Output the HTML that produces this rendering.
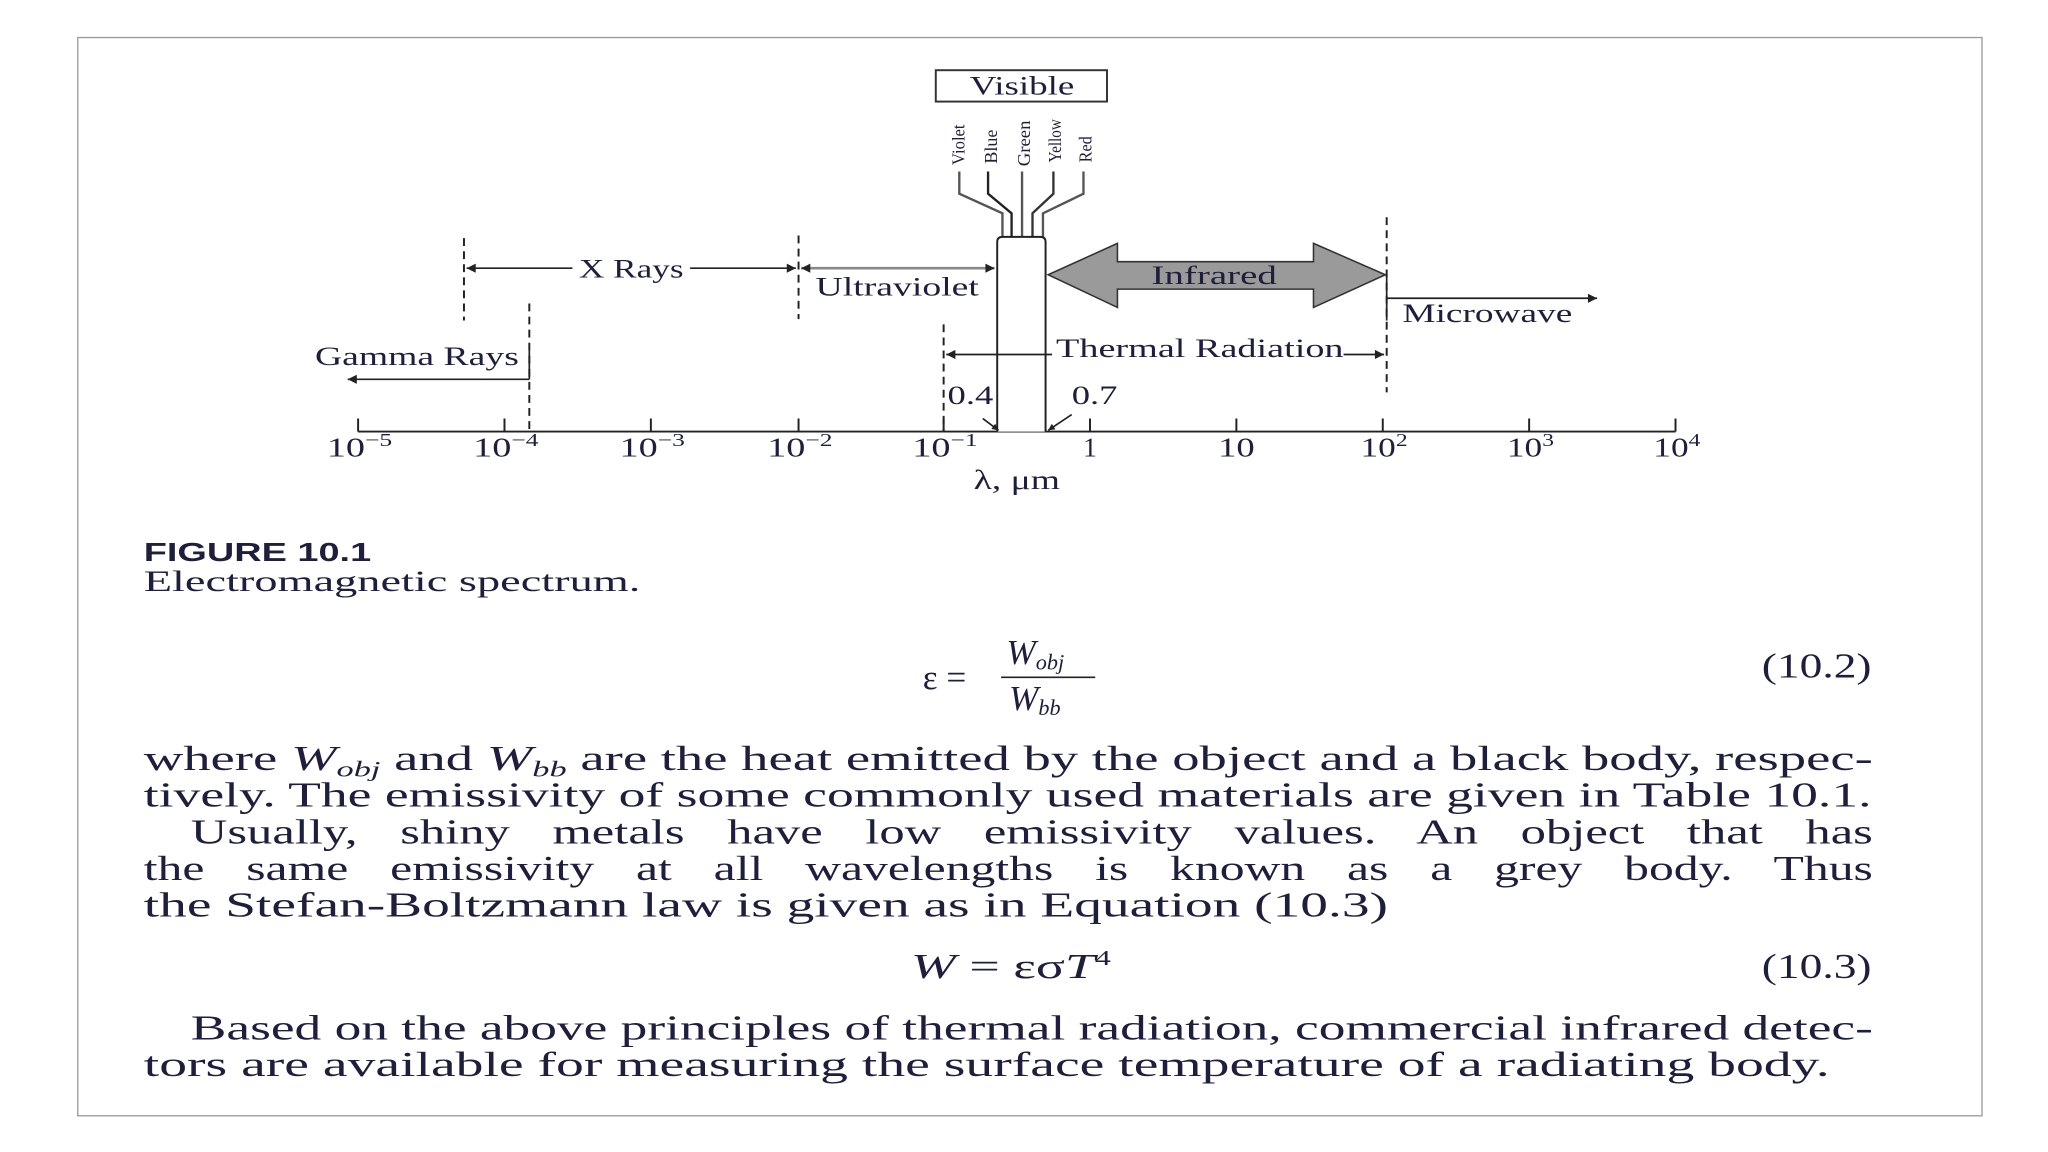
<!DOCTYPE html>
<html><head><meta charset="utf-8"><style>
html,body{margin:0;padding:0;background:#fff;}
svg{display:block;}
text{font-family:"Liberation Serif",serif;fill:#1f1f3c;}
</style></head><body>
<svg width="2048" height="1152" viewBox="0 0 1567 881" xmlns="http://www.w3.org/2000/svg">
<defs>
<marker id="ah" viewBox="0 0 10 10" refX="10" refY="5" markerWidth="7" markerHeight="5" orient="auto-start-reverse" markerUnits="userSpaceOnUse"><path d="M0,0 L10,5 L0,10 Z" fill="#222"/></marker>
<marker id="ahl" viewBox="0 0 10 10" refX="10" refY="5" markerWidth="18" markerHeight="7" orient="auto-start-reverse" markerUnits="userSpaceOnUse"><path d="M0,0 L10,5 L0,10 Z" fill="#222"/></marker>
</defs>
<rect x="59.5" y="28.5" width="1457" height="825" fill="none" stroke="#999" stroke-width="1"/>

<g stroke="#222" stroke-width="1.5" fill="none">
<line x1="274" y1="330" x2="1282" y2="330"/>
<line x1="274" y1="320" x2="274" y2="330"/><line x1="386" y1="320" x2="386" y2="330"/>
<line x1="498" y1="320" x2="498" y2="330"/><line x1="611" y1="320" x2="611" y2="330"/>
<line x1="722" y1="320" x2="722" y2="330"/><line x1="834" y1="320" x2="834" y2="330"/>
<line x1="946" y1="320" x2="946" y2="330"/><line x1="1058" y1="320" x2="1058" y2="330"/>
<line x1="1170" y1="320" x2="1170" y2="330"/><line x1="1282" y1="320" x2="1282" y2="330"/>
</g>
<g font-size="21">
<text x="250" y="349" textLength="50" lengthAdjust="spacingAndGlyphs">10<tspan font-size="14" dy="-8">−5</tspan></text>
<text x="362" y="349" textLength="50" lengthAdjust="spacingAndGlyphs">10<tspan font-size="14" dy="-8">−4</tspan></text>
<text x="474" y="349" textLength="50" lengthAdjust="spacingAndGlyphs">10<tspan font-size="14" dy="-8">−3</tspan></text>
<text x="587" y="349" textLength="50" lengthAdjust="spacingAndGlyphs">10<tspan font-size="14" dy="-8">−2</tspan></text>
<text x="698" y="349" textLength="50" lengthAdjust="spacingAndGlyphs">10<tspan font-size="14" dy="-8">−1</tspan></text>
<text x="834" y="349" text-anchor="middle">1</text>
<text x="946" y="349" text-anchor="middle" textLength="28" lengthAdjust="spacingAndGlyphs">10</text>
<text x="1041" y="349" textLength="36" lengthAdjust="spacingAndGlyphs">10<tspan font-size="14" dy="-8">2</tspan></text>
<text x="1153" y="349" textLength="36" lengthAdjust="spacingAndGlyphs">10<tspan font-size="14" dy="-8">3</tspan></text>
<text x="1265" y="349" textLength="36" lengthAdjust="spacingAndGlyphs">10<tspan font-size="14" dy="-8">4</tspan></text>
<text x="745" y="374" textLength="66" lengthAdjust="spacingAndGlyphs">λ, μm</text>
</g>

<rect x="716" y="53.5" width="131" height="24" fill="#fff" stroke="#333" stroke-width="1.5"/>
<text x="742" y="72" font-size="20" textLength="80" lengthAdjust="spacingAndGlyphs">Visible</text>
<g font-size="14">
<text transform="translate(738,126) rotate(-90)" textLength="31" lengthAdjust="spacingAndGlyphs">Violet</text>
<text transform="translate(763,125) rotate(-90)" textLength="26" lengthAdjust="spacingAndGlyphs">Blue</text>
<text transform="translate(788,127) rotate(-90)" textLength="35" lengthAdjust="spacingAndGlyphs">Green</text>
<text transform="translate(812,124) rotate(-90)" textLength="33" lengthAdjust="spacingAndGlyphs">Yellow</text>
<text transform="translate(835,124) rotate(-90)" textLength="20" lengthAdjust="spacingAndGlyphs">Red</text>
</g>
<g fill="none" stroke="#555" stroke-width="1.8">
<polyline points="734,131 734,148 767,163 767,182"/>
<polyline points="756,131 756,148 774,163 774,182" stroke="#222"/>
<polyline points="782,131 782,148 782,163 782,182"/>
<polyline points="806,131 806,148 790,163 790,182" stroke="#333"/>
<polyline points="829,131 829,148 798,163 798,182"/>
</g>
<path d="M763,330 L763,185 Q763,181 767,181 L796,181 Q800,181 800,185 L800,330" fill="#fff" stroke="#222" stroke-width="1.5"/>

<path d="M802,210 L855,186 L855,200 L1005,200 L1005,186 L1060,210 L1005,235 L1005,221 L855,221 L855,235 Z" fill="#9a9a9a" stroke="#333" stroke-width="1.2"/>
<text x="881" y="217" font-size="20" textLength="96" lengthAdjust="spacingAndGlyphs">Infrared</text>

<g stroke="#222" stroke-width="1.5" stroke-dasharray="6,4" fill="none">
<line x1="355" y1="182" x2="355" y2="245"/>
<line x1="611" y1="180" x2="611" y2="244"/>
<line x1="405" y1="232" x2="405" y2="330"/>
<line x1="722" y1="248" x2="722" y2="330"/>
<line x1="1061" y1="166" x2="1061" y2="300"/>
</g>

<g stroke="#222" stroke-width="1.3" fill="none">
<line x1="357" y1="205" x2="438" y2="205" marker-start="url(#ahl)"/>
<line x1="528" y1="205" x2="609" y2="205" marker-end="url(#ahl)"/>
<line x1="613" y1="205" x2="761" y2="205" stroke="#888" stroke-width="2" marker-start="url(#ahl)" marker-end="url(#ahl)"/>
<line x1="405" y1="268" x2="405" y2="290"/>
<line x1="405" y1="290" x2="266" y2="290" marker-end="url(#ahl)"/>
<line x1="724" y1="271" x2="805" y2="271" marker-start="url(#ahl)"/>
<line x1="1028" y1="271" x2="1059" y2="271" marker-end="url(#ahl)"/>
<line x1="1061" y1="210" x2="1061" y2="245"/>
<line x1="1061" y1="228" x2="1222" y2="228" marker-end="url(#ahl)"/>
<line x1="752" y1="320" x2="764" y2="329" marker-end="url(#ah)"/>
<line x1="820" y1="317" x2="802" y2="329" marker-end="url(#ah)"/>
</g>
<g font-size="20">
<text x="443" y="212" textLength="80" lengthAdjust="spacingAndGlyphs">X Rays</text>
<text x="624" y="226" textLength="125" lengthAdjust="spacingAndGlyphs">Ultraviolet</text>
<text x="241" y="279" textLength="156" lengthAdjust="spacingAndGlyphs">Gamma Rays</text>
<text x="808" y="273" textLength="220" lengthAdjust="spacingAndGlyphs">Thermal Radiation</text>
<text x="1073" y="246" textLength="130" lengthAdjust="spacingAndGlyphs">Microwave</text>
<text x="725" y="309" textLength="35" lengthAdjust="spacingAndGlyphs">0.4</text>
<text x="820" y="309" textLength="35" lengthAdjust="spacingAndGlyphs">0.7</text>
</g>

<text x="110" y="429" style="font-family:'Liberation Sans',sans-serif;font-weight:bold" font-size="20" textLength="174" lengthAdjust="spacingAndGlyphs">FIGURE 10.1</text>
<text x="110" y="452" font-size="23" textLength="380" lengthAdjust="spacingAndGlyphs">Electromagnetic spectrum.</text>

<text x="706" y="527" font-size="27">ε =</text>
<line x1="766" y1="518" x2="838" y2="518" stroke="#222" stroke-width="1.3"/>
<text x="770" y="508" font-size="27" font-style="italic">W<tspan font-size="17" dy="4">obj</tspan></text>
<text x="772" y="543" font-size="27" font-style="italic">W<tspan font-size="17" dy="4">bb</tspan></text>
<text x="1348" y="518" font-size="27" textLength="84" lengthAdjust="spacingAndGlyphs">(10.2)</text>

<g font-size="27">
<text x="110" y="589" textLength="1323" lengthAdjust="spacingAndGlyphs">where <tspan font-style="italic">W</tspan><tspan font-style="italic" font-size="17" dy="5">obj</tspan><tspan dy="-5"> and </tspan><tspan font-style="italic">W</tspan><tspan font-style="italic" font-size="17" dy="5">bb</tspan><tspan dy="-5"> are the heat emitted by the object and a black body, respec-</tspan></text>
<text x="110" y="617" textLength="1322" lengthAdjust="spacingAndGlyphs">tively. The emissivity of some commonly used materials are given in Table 10.1.</text>
<text x="146" y="645" word-spacing="16" textLength="1287" lengthAdjust="spacingAndGlyphs">Usually, shiny metals have low emissivity values. An object that has</text>
<text x="110" y="673" word-spacing="16" textLength="1323" lengthAdjust="spacingAndGlyphs">the same emissivity at all wavelengths is known as a grey body. Thus</text>
<text x="110" y="701" textLength="952" lengthAdjust="spacingAndGlyphs">the Stefan-Boltzmann law is given as in Equation (10.3)</text>
<text x="697" y="748" textLength="153" lengthAdjust="spacingAndGlyphs"><tspan font-style="italic">W</tspan> = εσ<tspan font-style="italic">T</tspan><tspan font-size="16" dy="-10">4</tspan></text>
<text x="1348" y="748" textLength="84" lengthAdjust="spacingAndGlyphs">(10.3)</text>
<text x="146" y="795" textLength="1287" lengthAdjust="spacingAndGlyphs">Based on the above principles of thermal radiation, commercial infrared detec-</text>
<text x="110" y="823" textLength="1290" lengthAdjust="spacingAndGlyphs">tors are available for measuring the surface temperature of a radiating body.</text>
</g>
</svg>
</body></html>
